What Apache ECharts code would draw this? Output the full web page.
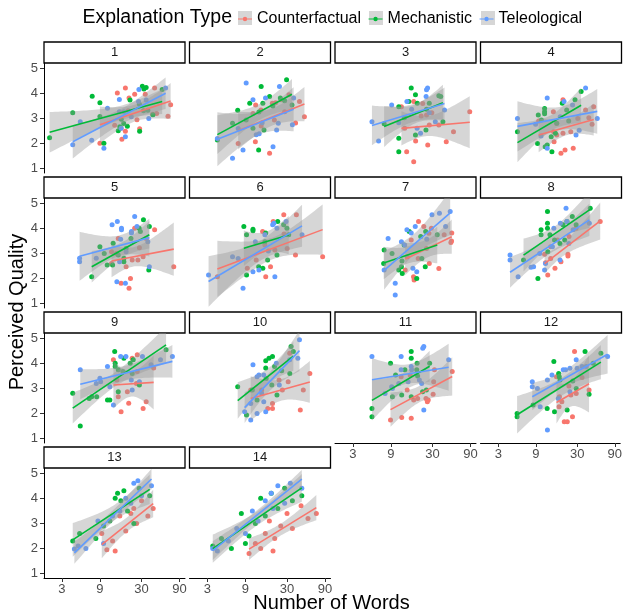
<!DOCTYPE html>
<html>
<head>
<meta charset="utf-8">
<script src="https://cdn.jsdelivr.net/npm/echarts@6/dist/echarts.min.js"></script>
<style>
  body { margin: 0; background: #fff; }
  #main { width: 625px; height: 614px; }
</style>
</head>
<body>
<div id="main"></div>
<script>
// facets, groups, ticks
var panels = ['1', '2', '3', '4', '5', '6', '7', '8', '9', '10', '11', '12', '13', '14'];
var typeNames = ['Counterfactual', 'Mechanistic', 'Teleological'];
var typeColors = ['#F8766D', '#00BA38', '#619CFF'];
var xTicks = [3, 9, 30, 90];
var yTicks = [1, 2, 3, 4, 5];

// [number of words, perceived quality] per panel
var counterfactual = [
  [[9,2.01],[14.9,4.01],[17,2.17],[18.8,4.21],[18.8,2.49],[20.9,3.81],[24.6,3.96],[26.3,2.95],[28.4,2.59],[33.4,3.96],[43.8,4.21],[41.3,3.17],[46.4,3.2],[64.4,3.09],[69.6,3.55],[13.8,2.73],[16.6,2.61],[20.4,3.31]],
  [[49.6,3.07],[43,3.67],[31.7,3.94],[21.5,3.63],[19.6,3.61],[12.1,3.54],[38.4,2.82],[18.1,1.61],[12,2.07],[7.3,2.0],[14.1,3.34],[28,3.27],[20.8,2.94],[11.2,3.2],[25.4,3.74],[14.2,2.7]],
  [[12.2,3.47],[17.4,3.67],[88,3.27],[55,2.47],[44.6,2.07],[26.1,1.94],[18.4,2.1],[14.2,1.67],[17.4,1.27],[13.4,2.61],[27.3,2.74],[36,2.74],[25.2,3.14],[21.6,3.1],[29.4,3.23],[22.6,3.6]],
  [[19.4,3.74],[18.3,1.61],[20.6,1.74],[26.1,1.81],[15,2.07],[16.2,2.34],[19.4,2.41],[24.3,2.47],[37.3,3.34],[47.2,3.47],[14.8,2.47],[9.6,2.9],[14.7,3.27],[29.8,3.0],[41,3.03],[45,2.77],[16.2,2.8]],
  [[76.2,2.47],[43.8,3.94],[20.9,1.61],[21.8,2.0],[19.2,2.47],[16.6,1.81],[22.9,2.74],[27,2.74],[24.6,4.0],[15.3,3.6],[12.6,2.6],[12.6,3.07],[31.4,2.87],[34.3,3.6],[28.2,3.23],[14.5,3.0]],
  [[4,2.07],[14.8,3.87],[27.3,4.54],[39.3,4.54],[84,2.87],[38.3,2.94],[20.1,4.27],[16.2,2.07],[18.6,2.47],[21.1,3.14],[12.3,2.74],[9.5,2.41],[30.1,3.2],[15.8,3.34],[27.5,3.77]],
  [[20,4.27],[23.3,4.07],[16.2,3.54],[27,3.8],[29,4.0],[52.3,3.81],[52,3.5],[51,3.44],[36,2.4],[27.3,2.6],[17.3,2.07],[17.6,1.94],[13.6,2.34],[19.8,2.8],[14.4,2.87],[42,3.74],[25.2,3.2]],
  [[11.4,2.97],[13.6,2.8],[12.5,2.14],[15.4,2.41],[18.3,2.67],[22.4,2.97],[22.4,2.9],[13.6,3.27],[16.6,3.54],[23.1,3.67],[28.3,4.0],[57,4.27],[11.7,2.63]],
  [[13.3,4.14],[22.9,4.2],[26.5,4.34],[16.6,2.07],[20.7,2.41],[31.4,2.2],[34.3,2.47],[42.6,3.81],[19.9,2.87],[25.9,3.2],[15.3,2.67],[14.7,3.34],[26.5,3.67]],
  [[10.5,2.94],[19.7,2.4],[17.2,2.2],[19.7,2.2],[23.8,3.34],[31,3.27],[44,2.14],[48,2.94],[58,3.6],[14.4,2.94],[26.2,2.94],[32.4,4.4]],
  [[8.9,1.74],[12.3,1.84],[16.2,1.81],[17.4,2.54],[19.5,2.6],[24.8,2.6],[26.5,2.54],[25.8,2.47],[30.5,2.77],[31.7,3.74],[53,3.67],[31,3.27],[12.1,3.47],[15.7,3.54],[14.4,2.94]],
  [[27.8,4.47],[16.4,3.47],[17.9,2.67],[20.6,1.67],[22.5,1.67],[26.2,1.87],[25,2.74],[29.2,2.8],[42.5,2.94],[19.2,2.47],[17.7,2.27],[34.6,3.44],[23.6,3.1]],
  [[9.5,2.6],[11,1.95],[14,1.9],[16,3.3],[19,2.7],[22,3.4],[26,3.0],[30,3.9],[36,3.3],[42,3.6],[13,2.3],[24,3.6]],
  [[10,1.8],[12,2.2],[14,2.0],[16,2.6],[18,3.1],[21,2.4],[25,2.9],[30,3.4],[35,2.8],[45,3.7],[55,3.2],[70,3.4],[20,1.9]]
];
var mechanistic = [
  [[2.1,2.23],[4.1,3.23],[7.2,3.88],[9,3.63],[9,3.08],[10.1,2.01],[15.3,2.51],[16,2.67],[17.9,2.8],[19.9,2.69],[16.7,2.97],[21.5,3.73],[28.4,2.49],[30.7,4.28],[32.1,4.17],[34.3,4.23],[28.2,3.57],[31.8,3.31],[36,3.33],[41.7,3.15],[54.5,4.15]],
  [[29.6,4.54],[14.2,4.27],[18.1,3.87],[10.2,3.61],[14.9,3.61],[7.2,3.33],[4,2.14],[15.4,2.54],[13.2,1.74],[11.2,2.61],[24.7,3.81],[34.6,3.54],[6.2,2.81],[9.2,2.94],[13.3,3.26],[28,3.7],[19.9,3.5]],
  [[16.2,4.21],[18.3,3.94],[15.1,3.67],[19.3,3.61],[11.3,3.47],[36,3.9],[38,3.87],[11.3,2.21],[11.3,1.67],[18.3,2.34],[24.8,2.54],[40.5,2.87],[7.4,2.79],[27.3,3.61],[25.2,3.37],[13.3,3.03]],
  [[5.2,2.47],[9.3,2.0],[11.4,3.4],[11.4,3.27],[11.4,3.19],[9.5,3.14],[19,3.61],[21.6,3.34],[32.8,4.07],[27.5,3.74],[14.1,1.67],[11.6,1.87],[12.3,1.94],[15.6,2.41],[13.8,2.27],[16.2,2.81],[10.4,2.94],[22.9,2.9]],
  [[7.1,2.07],[9,3.27],[11.1,2.54],[13,2.54],[13.2,3.41],[18,2.81],[18,2.67],[31.7,4.34],[28,4.0],[29,3.87],[37,2.34],[37.6,4.07],[22.1,3.6],[19.2,3.2],[15.3,2.94],[10.2,3.0]],
  [[8.6,4.07],[9.3,3.74],[11.2,3.96],[11.2,3.9],[16.2,3.81],[22.9,4.27],[27.2,4.14],[29.9,4.0],[22.4,2.94],[17.1,2.74],[13.2,2.47],[9.3,2.14],[14.9,2.41],[31.5,3.74],[15.8,3.47]],
  [[7.4,3.14],[9.3,3.0],[13.2,3.34],[15.3,3.87],[21.3,3.67],[24.6,3.87],[34.4,3.74],[12.2,2.47],[11.3,2.34],[12.5,2.2],[19,2.0],[24.3,2.47],[22,2.8],[7.3,2.6],[12.4,2.7]],
  [[12.4,4.67],[12.4,4.2],[12.4,4.0],[10.3,3.94],[10.3,3.74],[9.4,2.0],[12.5,3.07],[6.2,2.74],[13.3,3.74],[15.2,3.54],[19.4,4.14],[21.8,4.27],[25.4,4.47],[42.7,4.8],[20.4,3.54],[17.8,3.4],[28.4,4.14]],
  [[4.1,2.81],[5.1,1.5],[6.6,2.6],[7.1,2.67],[8.2,2.67],[11.2,2.54],[12,2.54],[13.8,4.47],[14,4.0],[14,3.87],[18,4.2],[15.3,3.74],[17.5,3.67],[28.2,3.14],[21.6,4.0],[23.6,4.14],[61,4.54],[15.3,2.87],[22.9,3.6]],
  [[7.2,3.07],[9.3,1.94],[16.2,4.1],[17.8,4.2],[19.7,4.27],[20.9,3.87],[16.2,3.81],[33.7,4.67],[36,4.47],[22.4,2.74],[12.6,2.54],[19.3,3.14],[32.5,3.6],[16.4,3.4],[11,2.94],[25.7,3.7]],
  [[5.2,2.2],[5.2,1.87],[8.9,4.0],[10.3,3.54],[13.5,3.74],[16.2,4.47],[16.2,4.2],[19.2,4.0],[27.6,4.0],[9.4,2.67],[12.3,2.74],[16.2,2.67],[19.5,3.5],[19,3.74],[25.1,2.94],[22.5,2.87]],
  [[5.2,2.0],[5.2,1.87],[8.3,2.34],[12.5,2.2],[15.5,2.07],[15.2,4.07],[17.5,3.6],[17.8,3.47],[18.2,3.34],[22.4,2.14],[29.2,3.0],[37.8,4.47],[42.5,2.77],[48,4.0],[60,4.4],[26.4,3.3]],
  [[4.1,2.3],[5.0,2.6],[8,2.4],[10,2.9],[14,4.0],[15,4.2],[16.5,3.9],[18,4.3],[20,3.5],[24,3.0],[28,4.4],[38,4.1],[12,3.1]],
  [[3.5,2.1],[4.5,2.4],[6,2.0],[8,3.4],[10,2.5],[12,3.0],[14,4.0],[16,3.3],[19,4.2],[23,3.6],[28,4.4],[35,3.9],[46,4.1],[9,2.2]]
];
var teleological = [
  [[4.1,1.95],[5.1,2.87],[7.1,2.13],[11.2,3.41],[10.1,1.81],[15.8,3.75],[15.8,3.27],[18,3.27],[18.8,2.27],[27.8,4.15],[27.5,3.67],[34.3,3.73],[37,3.0],[60.2,4.21],[22.3,3.07],[16.6,2.61]],
  [[9.2,4.41],[24.1,4.27],[11.2,3.74],[16.1,3.81],[36.3,3.81],[23.3,2.81],[22.2,2.54],[12.3,2.35],[8.4,1.74],[6.2,1.41],[20,1.87],[35,2.75],[7.3,2.6],[14.6,2.83],[13.4,2.39],[4,2.2]],
  [[5.2,2.87],[6.3,2.1],[9.2,3.54],[14.3,3.67],[25.2,4.14],[26,4.21],[24.9,3.87],[42.4,3.34],[32.5,2.87],[19.2,2.61],[21.2,2.41],[11.3,2.83],[27.3,3.23],[16.4,3.37]],
  [[5.2,3.0],[12.3,3.81],[37.3,4.21],[52.3,3.0],[28.3,2.34],[31,2.53],[12.3,1.81],[10.3,2.3],[25.6,3.54],[20,3.67],[17.9,3.07],[8.8,2.77]],
  [[5,2.81],[5,2.67],[8.1,2.81],[12.8,4.14],[14.9,4.27],[16.8,4.0],[16.8,3.94],[24.6,4.47],[26.3,4.07],[22.4,3.81],[22.4,3.87],[14.7,1.87],[18.8,1.81],[37.6,2.47],[36,3.47],[15.9,2.67],[19.2,3.07],[16.4,3.57]],
  [[3.1,2.14],[6.2,2.87],[8.4,1.61],[11.2,2.27],[13.3,2.34],[19.8,4.14],[20.5,4.2],[22.4,4.0],[29.2,4.27],[15.8,3.74],[21.1,2.07],[46.3,3.74],[7.3,2.8],[12,3.47],[17.5,3.1]],
  [[8.3,3.6],[7.4,2.34],[10.2,1.81],[10.2,1.34],[12.2,3.47],[14.3,3.94],[16.2,3.81],[18.2,4.07],[29.5,4.54],[36.6,4.6],[50,4.67],[43.8,4.07],[17,2.41],[19,2.27],[13.4,3.34],[25.4,3.57]],
  [[4.2,2.94],[4.2,2.74],[5.3,2.07],[7.7,2.45],[8.3,2.47],[11.4,2.34],[11.7,2.6],[14.9,4.0],[18,4.2],[21.2,4.8],[26,3.94],[41.6,4.2],[21.7,4.27],[17.8,2.74],[9.9,3.0],[14.3,3.27],[23,3.4]],
  [[5.1,3.74],[9,3.41],[9.2,3.27],[8.1,3.2],[11.2,3.87],[12,3.07],[13.3,2.34],[16.4,4.27],[19.1,4.27],[22.3,3.34],[22.9,2.94],[28.2,3.27],[30.8,4.27],[51.9,4.14],[73.2,4.27],[39.5,3.94]],
  [[11.2,3.94],[12.6,3.47],[13.3,3.54],[15.3,3.54],[22,4.0],[43,4.94],[41,4.2],[32.4,4.14],[8.8,2.07],[10.5,1.74],[12.6,2.0],[16.2,2.07],[15.3,2.47],[10.5,2.4],[24,3.14],[14.4,2.8]],
  [[5.2,4.27],[7.6,2.8],[9.4,3.0],[9.2,3.07],[12.1,4.27],[12.1,3.74],[16.2,3.87],[16.4,3.74],[22.6,4.6],[23.3,4.67],[23.3,2.14],[47.8,4.14],[21.9,3.2],[14.8,3.27],[11.3,3.2],[20.5,3.34]],
  [[8.1,3.27],[8.1,3.07],[9.4,3.0],[12.6,1.34],[14.4,3.54],[12.6,3.34],[20,3.74],[21.4,3.74],[24.3,3.8],[29.2,4.14],[30,3.8],[34.6,3.87],[39,3.87],[73,4.27],[10.2,2.27],[17.3,2.6],[24.3,2.87]],
  [[4.3,1.98],[4.8,2.1],[6,2.0],[8.5,3.1],[10,2.2],[13,3.3],[16,3.5],[19,4.0],[24,4.6],[27,4.7],[30,4.1],[40,4.5],[22,3.8]],
  [[3.5,2.0],[4,1.9],[5.5,2.3],[7,2.8],[9,2.6],[11,3.5],[13,3.1],[16,3.9],[19,4.2],[23,4.5],[28,3.8],[33,4.6],[46,4.4],[20,3.6]]
];
var groups = [counterfactual, mechanistic, teleological];

// layout
var colLeft = 44, colStep = 145.5, rowTop = 42, rowStep = 135;
var stripH = 21, panelW = 141, panelH = 110;
var xMin = 0.252, xMax = 2.023, yMin = 0.824, yMax = 5.21;
var font = 'Liberation Sans';

function lg(v) { return Math.log10(v); }

// t quantile 0.975 (Cornish-Fisher)
function tq(df) {
  var z = 1.959964;
  return z + (z * z * z + z) / (4 * df) + (5 * Math.pow(z, 5) + 16 * z * z * z + 3 * z) / (96 * df * df);
}

// lm fit on log10(words), like geom_smooth(method = lm)
function fit(pts) {
  var n = pts.length;
  var xs = pts.map(function (p) { return lg(p[0]); });
  var ys = pts.map(function (p) { return p[1]; });
  var mx = 0, my = 0;
  for (var i = 0; i < n; i++) { mx += xs[i]; my += ys[i]; }
  mx /= n; my /= n;
  var sxx = 0, sxy = 0;
  for (i = 0; i < n; i++) { sxx += (xs[i] - mx) * (xs[i] - mx); sxy += (xs[i] - mx) * (ys[i] - my); }
  var b = sxy / sxx, a = my - b * mx;
  var sse = 0;
  for (i = 0; i < n; i++) { sse += Math.pow(ys[i] - a - b * xs[i], 2); }
  var s = Math.sqrt(sse / (n - 2)), t = tq(n - 2);
  var lo = Math.min.apply(null, xs), hi = Math.max.apply(null, xs);
  var upper = [], lower = [];
  for (var k = 0; k <= 40; k++) {
    var x = lo + (hi - lo) * k / 40;
    var yh = a + b * x;
    var se = s * Math.sqrt(1 / n + (x - mx) * (x - mx) / sxx);
    upper.push([x, yh + t * se]);
    lower.push([x, yh - t * se]);
  }
  return { line: [[lo, a + b * lo], [hi, a + b * hi]], poly: upper.concat(lower.reverse()) };
}

var grids = [], xAxes = [], yAxes = [], series = [], graphics = [];

panels.forEach(function (label, i) {
  var r = Math.floor(i / 4), c = i % 4;
  var left = colLeft + c * colStep, top = rowTop + r * rowStep;
  var showX = i >= panels.length - 4, showY = c === 0;

  grids.push({ left: left, top: top + stripH, width: panelW, height: panelH });
  xAxes.push({
    gridIndex: i, type: 'value', min: xMin, max: xMax,
    axisLine: { show: showX, lineStyle: { color: '#000', width: 1 } },
    axisTick: { show: showX, customValues: xTicks.map(lg), length: 4, lineStyle: { color: '#333' } },
    axisLabel: {
      show: showX, customValues: xTicks.map(lg), margin: 5, color: '#4d4d4d', fontSize: 13, fontFamily: font,
      formatter: function (v) { return Math.round(Math.pow(10, v)); }
    },
    splitLine: { show: false }
  });
  yAxes.push({
    gridIndex: i, type: 'value', min: yMin, max: yMax,
    axisLine: { show: showY, lineStyle: { color: '#000', width: 1 } },
    axisTick: { show: showY, customValues: yTicks, length: 4, lineStyle: { color: '#333' } },
    axisLabel: { show: showY, customValues: yTicks, margin: 6, color: '#4d4d4d', fontSize: 13, fontFamily: font },
    splitLine: { show: false }
  });

  // strip
  graphics.push({
    type: 'rect', shape: { x: left, y: top, width: panelW, height: stripH },
    style: { fill: '#fff', stroke: '#000', lineWidth: 1.3 }
  });
  graphics.push({
    type: 'text', x: left + panelW / 2, y: top + stripH / 2,
    style: { text: label, fontSize: 13, fontFamily: font, fill: '#1a1a1a', align: 'center', verticalAlign: 'middle' }
  });

  groups.forEach(function (g, k) {
    var pts = g[i];
    series.push({
      type: 'scatter', name: typeNames[k], xAxisIndex: i, yAxisIndex: i, z: 2,
      symbolSize: 5, itemStyle: { color: typeColors[k], opacity: 1 },
      data: pts.map(function (p) { return [lg(p[0]), p[1]]; })
    });
  });
  groups.forEach(function (g, k) {
    var f = fit(g[i]);
    series.push({
      type: 'custom', xAxisIndex: i, yAxisIndex: i, z: 3, silent: true, clip: true,
      data: [f.line[0]],
      renderItem: function (params, api) {
        return {
          type: 'polygon',
          shape: { points: f.poly.map(function (p) { return api.coord(p); }) },
          style: { fill: 'rgba(153,153,153,0.4)' }
        };
      }
    });
    series.push({
      type: 'line', xAxisIndex: i, yAxisIndex: i, z: 4, silent: true,
      showSymbol: false, lineStyle: { color: typeColors[k], width: 1.6 },
      data: f.line
    });
  });
});

// legend key backgrounds and titles
[238, 369, 481].forEach(function (x) {
  graphics.push({ type: 'rect', shape: { x: x, y: 11, width: 14, height: 14 }, style: { fill: '#d6d6d6' }, z: 0 });
});
graphics.push({
  type: 'text', x: 232, y: 18,
  style: { text: 'Explanation Type', fontSize: 19.5, fontFamily: font, fill: '#000', align: 'right', verticalAlign: 'middle' }
});
graphics.push({
  type: 'text', x: 331.5, y: 603,
  style: { text: 'Number of Words', fontSize: 20, fontFamily: font, fill: '#000', align: 'center', verticalAlign: 'middle' }
});
graphics.push({
  type: 'text', x: 17, y: 312, rotation: Math.PI / 2,
  style: { text: 'Perceived Quality', fontSize: 20, fontFamily: font, fill: '#000', align: 'center', verticalAlign: 'middle' }
});

var keyIcon = 'path://M0,1.6h14v1.2h-14z M7,0a2.2,2.2 0 1,1 -0.001,0z';

var chart = echarts.init(document.getElementById('main'));
chart.setOption({
  animation: false,
  backgroundColor: '#fff',
  textStyle: { fontFamily: font },
  legend: {
    left: 238, top: 11, padding: 0, itemWidth: 14, itemHeight: 4.4, itemGap: 7.5, selectedMode: false, z: 10,
    textStyle: { fontSize: 16, color: '#000', fontFamily: font },
    data: typeNames.map(function (n) { return { name: n, icon: keyIcon }; })
  },
  grid: grids,
  xAxis: xAxes,
  yAxis: yAxes,
  graphic: { elements: graphics },
  series: series
});
</script>
</body>
</html>
